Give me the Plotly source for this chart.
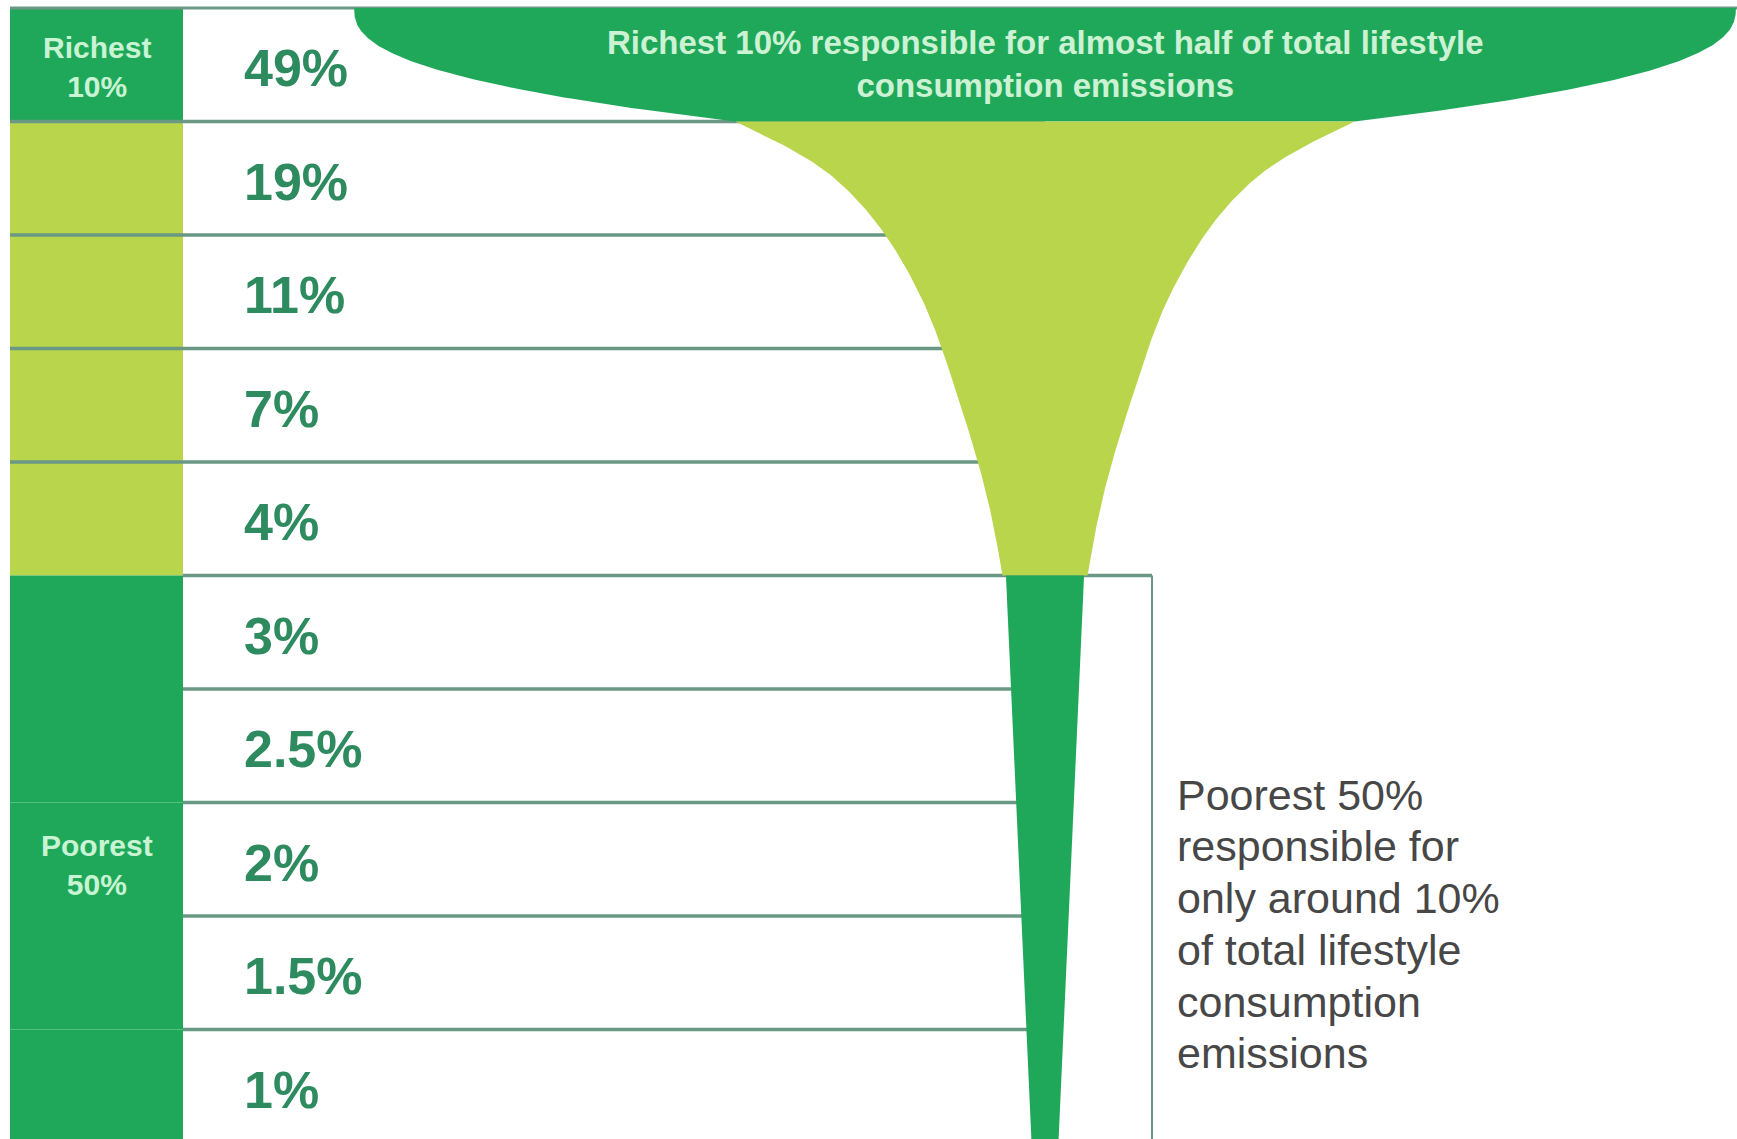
import numpy as np
import plotly.graph_objects as go

# ---------------- data ----------------
share_labels = ["49%", "19%", "11%", "7%", "4%", "3%", "2.5%", "2%", "1.5%", "1%"]
shares = [49, 19, 11, 7, 4, 3, 2.5, 2, 1.5, 1]
row_group = ["richest", "middle", "middle", "middle", "middle",
             "poorest", "poorest", "poorest", "poorest", "poorest"]
group_label_lines = {"richest": ["Richest", "10%"], "poorest": ["Poorest", "50%"]}
bowl_text = ["Richest 10% responsible for almost half of total lifestyle",
             "consumption emissions"]
poor_text = ["Poorest 50%", "responsible for", "only around 10%",
             "of total lifestyle", "consumption", "emissions"]

# ---------------- style / layout constants ----------------
W, H = 1737, 1139
TOP_PX, ROW_PX = 8, 113.5
DARK = "#1fa85a"
LIGHT = "#b9d54c"
LINE = "#6a9884"
NUM_COLOR = "#2e8b60"
LABEL_COLOR = "#c8f4d4"
BOWL_TEXT_COLOR = "#cdf2d3"
NOTE_COLOR = "#474747"
FONT = "Liberation Sans, Arial, sans-serif"

COL_X0, COL_X1 = 10, 183
NUM_X = 242
CX = 1045                       # glass centre (px)
K_TOP, K_NECK = 14.1, 16.3      # bowl rim / bowl neck, px per percentage point
BODY_MIN, K_BODY = 11.0, 10.5   # body half-width = BODY_MIN + K_BODY * share
STEM_MIN, K_STEM = 5.75, 10.25  # stem half-width = STEM_MIN + K_STEM * share
BOWL_POW = 2.5
BOX_X1 = 1152
NOTE_X = 1175

group_color = {"richest": DARK, "middle": LIGHT, "poorest": DARK}
n = len(shares)


def pchip(xk, yk, xs):
    xk = np.asarray(xk, float)
    yk = np.asarray(yk, float)
    h = np.diff(xk)
    d = np.diff(yk) / h
    m = np.zeros_like(yk)
    m[0], m[-1] = d[0], d[-1]
    for k in range(1, len(xk) - 1):
        if d[k - 1] * d[k] <= 0:
            m[k] = 0.0
        else:
            w1 = 2 * h[k] + h[k - 1]
            w2 = h[k] + 2 * h[k - 1]
            m[k] = (w1 + w2) / (w1 / d[k - 1] + w2 / d[k])
    xs = np.asarray(xs, float)
    idx = np.clip(np.searchsorted(xk, xs) - 1, 0, len(xk) - 2)
    t = (xs - xk[idx]) / h[idx]
    h00 = 2 * t**3 - 3 * t**2 + 1
    h10 = t**3 - 2 * t**2 + t
    h01 = -2 * t**3 + 3 * t**2
    h11 = t**3 - t**2
    return h00 * yk[idx] + h10 * h[idx] * m[idx] + h01 * yk[idx + 1] + h11 * h[idx] * m[idx + 1]


def glass_piece(ys, half):
    x = np.concatenate([CX - half, (CX + half)[::-1]])
    y = np.concatenate([ys, ys[::-1]])
    return x, y


fig = go.Figure()

mid_rows = [i for i, g in enumerate(row_group) if g == "middle"]
poor_rows = [i for i, g in enumerate(row_group) if g == "poorest"]

# bowl (richest 10%)
t = np.linspace(0, 1, 120)
h0 = shares[0] * K_TOP
h1 = shares[mid_rows[0]] * K_NECK
bowl_half = h1 + (h0 - h1) * (1 - t**BOWL_POW)
bx, by = glass_piece(t, bowl_half)
fig.add_trace(go.Scatter(x=bx, y=by, fill="toself", fillcolor=DARK, mode="lines",
                         line=dict(width=0, color=DARK), hoverinfo="skip"))

# body (middle 40%): knots at row centres, joined to bowl neck and stem top
ky = [mid_rows[0]] + [i + 0.5 for i in mid_rows] + [poor_rows[0]]
kh = [h1] + [BODY_MIN + K_BODY * shares[i] for i in mid_rows] + \
     [BODY_MIN + K_BODY * shares[poor_rows[0]]]
ys = np.linspace(ky[0], ky[-1], 200)
body_half = np.exp(pchip(ky, np.log(kh), ys))
mx, my = glass_piece(ys, body_half)
fig.add_trace(go.Scatter(x=mx, y=my, fill="toself", fillcolor=LIGHT, mode="lines",
                         line=dict(width=0, color=LIGHT), hoverinfo="skip"))

# stem (poorest 50%): straight taper through row centres
sy_k = np.array([i + 0.5 for i in poor_rows])
sh_k = np.array([STEM_MIN + K_STEM * shares[i] for i in poor_rows])
ys = np.linspace(poor_rows[0], poor_rows[-1] + 1, 100)
stem_half = np.interp(ys, sy_k, sh_k)
lo = ys < sy_k[0]
stem_half[lo] = sh_k[0] + (ys[lo] - sy_k[0]) * (sh_k[1] - sh_k[0]) / (sy_k[1] - sy_k[0])
hi = ys > sy_k[-1]
stem_half[hi] = sh_k[-1] + (ys[hi] - sy_k[-1]) * (sh_k[-1] - sh_k[-2]) / (sy_k[-1] - sy_k[-2])
sx, sy = glass_piece(ys, stem_half)
fig.add_trace(go.Scatter(x=sx, y=sy, fill="toself", fillcolor=DARK, mode="lines",
                         line=dict(width=0, color=DARK), hoverinfo="skip"))

shapes = []
# label column
for i, g in enumerate(row_group):
    shapes.append(dict(type="rect", x0=COL_X0, x1=COL_X1, y0=i, y1=i + 1,
                       fillcolor=group_color[g], line=dict(width=0), layer="below"))
# top border
shapes.append(dict(type="line", x0=COL_X0, x1=W, y0=0, y1=0,
                   line=dict(color=LINE, width=3), layer="below"))
# row separators
first_poor = poor_rows[0]
for i in range(1, n):
    if i < first_poor:
        x0, x1 = COL_X0, CX
    elif i == first_poor:
        x0, x1 = COL_X1, BOX_X1
    else:
        x0, x1 = COL_X1, CX
    shapes.append(dict(type="line", x0=x0, x1=x1, y0=i, y1=i,
                       line=dict(color=LINE, width=3.5), layer="below"))
# poorest box right edge
shapes.append(dict(type="line", x0=BOX_X1, x1=BOX_X1, y0=first_poor, y1=n,
                   line=dict(color=LINE, width=2), layer="below"))

annotations = []
for i, lab in enumerate(share_labels):
    annotations.append(dict(x=NUM_X, y=i + 0.53, text=lab, showarrow=False,
                            xanchor="left", yanchor="middle",
                            font=dict(family=FONT, size=52, color=NUM_COLOR, weight="bold")))

for g, lines in group_label_lines.items():
    rows = [i for i, gg in enumerate(row_group) if gg == g]
    yc = (rows[0] + rows[-1] + 1) / 2 + (0.05 if len(rows) > 1 else 0.02)
    annotations.append(dict(x=(COL_X0 + COL_X1) / 2, y=yc, text="<br>".join(lines),
                            showarrow=False, xanchor="center", yanchor="middle", align="center",
                            font=dict(family=FONT, size=30, color=LABEL_COLOR, weight="bold")))

annotations.append(dict(x=CX, y=0.49, text="<br>".join(bowl_text), showarrow=False,
                        xanchor="center", yanchor="middle", align="center",
                        font=dict(family=FONT, size=33, color=BOWL_TEXT_COLOR, weight="bold")))

for j, ln in enumerate(poor_text):
    annotations.append(dict(x=NOTE_X, y=6.93 + j * 0.456, text=ln, showarrow=False,
                            xanchor="left", yanchor="middle",
                            font=dict(family=FONT, size=43, color=NOTE_COLOR)))

fig.update_layout(
    width=W, height=H,
    margin=dict(l=0, r=0, t=0, b=0),
    paper_bgcolor="white", plot_bgcolor="white",
    showlegend=False,
    xaxis=dict(range=[0, W], visible=False, fixedrange=True),
    yaxis=dict(range=[(H - TOP_PX) / ROW_PX, -TOP_PX / ROW_PX], visible=False, fixedrange=True),
    shapes=shapes,
    annotations=annotations,
)

fig.write_html("out.html", config={"displayModeBar": False},
               post_script="document.body.style.margin='0';document.body.style.overflow='hidden';")
